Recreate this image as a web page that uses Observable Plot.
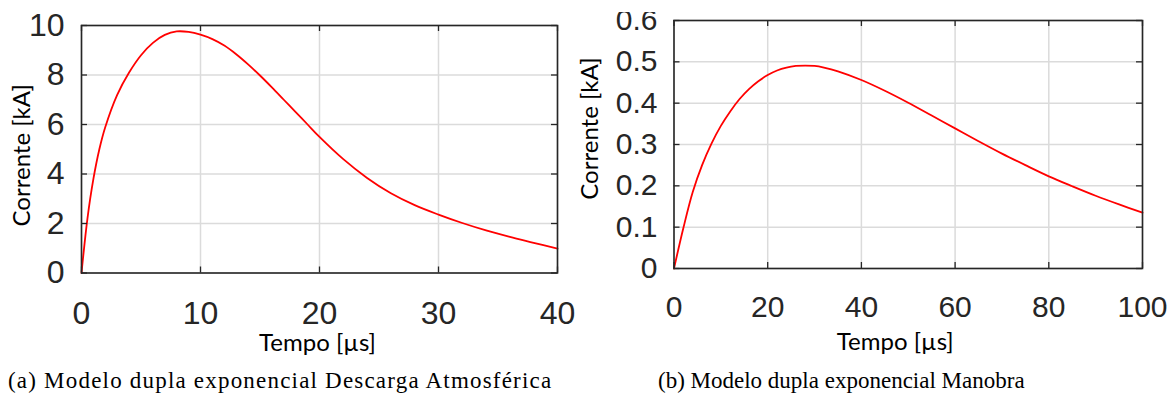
<!DOCTYPE html>
<html>
<head>
<meta charset="utf-8">
<script src="https://cdn.jsdelivr.net/npm/d3@7"></script>
<script src="https://cdn.jsdelivr.net/npm/@observablehq/plot@0.6"></script>
<style>
  html, body { margin: 0; padding: 0; background: #fff; }
  body { position: relative; width: 1171px; height: 394px; overflow: hidden; }
  #painelA { position: absolute; left: 0; top: 0; }
  #painelB { position: absolute; left: 570px; top: 12px; width: 601px; height: 382px; overflow: hidden; }
  .legenda { position: absolute; font-family: "Liberation Serif", "Times New Roman", serif; font-size: 23px; line-height: 23px; color: #000; white-space: nowrap; }
</style>
</head>
<body>
<div id="painelA"></div>
<div id="painelB"></div>
<div class="legenda" style="left:8px; top:369px; letter-spacing:1.2px;">(a) Modelo dupla exponencial Descarga Atmosférica</div>
<div class="legenda" style="left:658px; top:369px;">(b) Modelo dupla exponencial Manobra</div>
<script>
// Descarga atmosférica: corrente [kA] em função do tempo [µs]
const tempoA = [0, 0.5, 1, 1.5, 2, 3, 4, 5, 6, 7, 8, 9, 10, 11, 12, 13, 14, 15, 16, 17, 18, 19, 20, 22, 24, 26, 28, 30, 32, 34, 36, 38, 40];
const correnteA = [0, 2.2, 3.8, 5.0, 5.9, 7.2, 8.1, 8.8, 9.3, 9.62, 9.76, 9.74, 9.63, 9.45, 9.19, 8.84, 8.43, 7.98, 7.5, 7.0, 6.5, 6.0, 5.5, 4.6, 3.84, 3.22, 2.74, 2.36, 2.02, 1.72, 1.46, 1.22, 0.98];
const ticksXA = [0, 10, 20, 30, 40];
const ticksYA = [0, 2, 4, 6, 8, 10];

// Manobra: corrente [kA] em função do tempo [µs]
const tempoB = [0, 2, 4, 6, 8, 10, 12, 14, 16, 18, 20, 22, 24, 26, 28, 30, 32, 35, 40, 45, 50, 55, 60, 65, 70, 75, 80, 85, 90, 95, 100];
const correnteB = [0, 0.098, 0.185, 0.25, 0.302, 0.345, 0.38, 0.41, 0.434, 0.453, 0.468, 0.479, 0.486, 0.49, 0.491, 0.49, 0.486, 0.477, 0.456, 0.43, 0.401, 0.37, 0.339, 0.308, 0.278, 0.25, 0.223, 0.199, 0.176, 0.155, 0.135];
const ticksXB = [0, 20, 40, 60, 80, 100];
const ticksYB = [0, 0.1, 0.2, 0.3, 0.4, 0.5, 0.6];

const rotuloX = "Tempo [µs]";
const rotuloY = "Corrente [kA]";

const corMoldura = "#262626";
const corGrade = "#dbdbdb";
const corCurva = "#ff0000";
const fonteEixo = 'Lato, "Open Sans", sans-serif';

function painel(o) {
  const largInterna = o.width - o.marginLeft - o.marginRight;
  const altInterna = o.height - o.marginTop - o.marginBottom;
  const tique = 6;
  const pontos = o.tempo.map((t, k) => ({t, i: o.corrente[k]}));
  return Plot.plot({
    width: o.width,
    height: o.height,
    marginLeft: o.marginLeft,
    marginRight: o.marginRight,
    marginTop: o.marginTop,
    marginBottom: o.marginBottom,
    style: {background: "transparent", overflow: "visible", color: "#262626", fontFamily: '"Liberation Sans", Arial, sans-serif'},
    x: {domain: [o.ticksX[0], o.ticksX[o.ticksX.length - 1]]},
    y: {domain: [o.ticksY[0], o.ticksY[o.ticksY.length - 1]]},
    marks: [
      Plot.gridX(o.ticksX, {stroke: corGrade, strokeOpacity: 1, strokeWidth: 1.5}),
      Plot.gridY(o.ticksY, {stroke: corGrade, strokeOpacity: 1, strokeWidth: 1.5}),
      Plot.line(pontos, {x: "t", y: "i", stroke: corCurva, strokeWidth: 1.8, curve: "catmull-rom"}),
      // tiques internos nos quatro lados da caixa
      Plot.ruleX(o.ticksX, {x: d => d, insetTop: altInterna - tique, stroke: corMoldura, strokeWidth: 1.3}),
      Plot.ruleX(o.ticksX, {x: d => d, insetBottom: altInterna - tique, stroke: corMoldura, strokeWidth: 1.3}),
      Plot.ruleY(o.ticksY, {y: d => d, insetRight: largInterna - tique, stroke: corMoldura, strokeWidth: 1.3}),
      Plot.ruleY(o.ticksY, {y: d => d, insetLeft: largInterna - tique, stroke: corMoldura, strokeWidth: 1.3}),
      Plot.frame({stroke: corMoldura, strokeWidth: 1.6}),
      Plot.axisX(o.ticksX, {tickSize: 0, tickPadding: o.padX, fontSize: o.fontSize, label: null, tickFormat: d => String(d)}),
      Plot.axisY(o.ticksY, {tickSize: 0, tickPadding: o.padY, fontSize: o.fontSize, label: null, tickFormat: d => String(d)}),
      Plot.text([rotuloX], {frameAnchor: "bottom", textAnchor: "middle", lineAnchor: "middle", dx: o.rotXdx, dy: o.rotXdy, fontSize: 24, fontFamily: fonteEixo, fill: "#000"}),
      Plot.text([rotuloY], {frameAnchor: "left", textAnchor: "middle", lineAnchor: "middle", rotate: -90, dx: o.rotYdx, dy: o.rotYdy, fontSize: 24, fontFamily: fonteEixo, fill: "#000"})
    ]
  });
}

document.getElementById("painelA").append(painel({
  tempo: tempoA, corrente: correnteA, ticksX: ticksXA, ticksY: ticksYA,
  width: 570, height: 360,
  marginLeft: 81, marginRight: 13, marginTop: 25, marginBottom: 87.5,
  fontSize: 32, padX: 28, padY: 17,
  rotXdx: -2, rotXdy: 70, rotYdx: -59, rotYdy: 6
}));

document.getElementById("painelB").append(painel({
  tempo: tempoB, corrente: correnteB, ticksX: ticksXB, ticksY: ticksYB,
  width: 601, height: 350,
  marginLeft: 103.5, marginRight: 29, marginTop: 8, marginBottom: 94,
  fontSize: 30, padX: 27.5, padY: 16.5,
  rotXdx: -13, rotXdy: 74, rotYdx: -83.5, rotYdy: -16
}));
</script>
</body>
</html>
